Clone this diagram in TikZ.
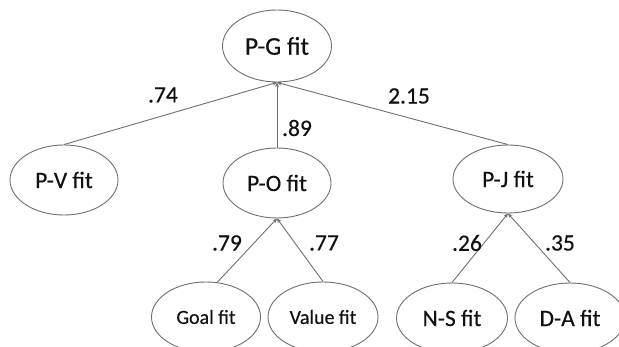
\documentclass[tikz,border=0pt]{standalone}
\usepackage{fontspec}
\setmainfont{Carlito}[FakeBold=0.35]
\usetikzlibrary{shapes.geometric,arrows.meta}
\definecolor{edgegray}{HTML}{707070}
\definecolor{inkgray}{HTML}{111111}
\begin{document}
\begin{tikzpicture}[x=1pt,y=-1pt,
  fitnode/.style={ellipse,draw=edgegray,line width=0.9pt,inner sep=0pt,
    text=inkgray,font=\fontsize{23.5}{27}\selectfont},
  link/.style={draw=edgegray,line width=0.9pt,-{Stealth[length=4.5pt,width=4pt]}},
  weight/.style={text=inkgray,font=\fontsize{23.5}{27}\selectfont,inner sep=0pt}]
\useasboundingbox[fill=white] (0,0) rectangle (619,347);
% top level
\node[fitnode,minimum width=109pt,minimum height=72pt,font=\fontsize{25.5}{30}\selectfont] (pg) at (277,46) {P-G fit};
% second level
\node[fitnode,minimum width=108pt,minimum height=70pt] (pv) at (64,180) {P-V fit};
\node[fitnode,minimum width=108pt,minimum height=70pt] (po) at (277,183) {P-O fit};
\node[fitnode,minimum width=110pt,minimum height=68pt] (pj) at (508,179) {P-J fit};
% third level
\node[fitnode,minimum width=109pt,minimum height=70pt,font=\fontsize{20}{24}\selectfont] (goal) at (206,317) {Goal fit};
\node[fitnode,minimum width=110pt,minimum height=70pt,font=\fontsize{20}{24}\selectfont] (value) at (323,317) {Value fit};
\node[fitnode,minimum width=111pt,minimum height=70pt] (ns) at (452,318) {N-S fit};
\node[fitnode,minimum width=110pt,minimum height=70pt] (da) at (570,318) {D-A fit};
% connectors
\draw[link] (pv.north) -- (pg.south);
\draw[link] (po.north) -- (pg.south);
\draw[link] (pj.north) -- (pg.south);
\draw[link] (goal.72) -- (po.south);
\draw[link] (value.north) -- (po.south);
\draw[link] (ns.north) -- (pj.south);
\draw[link] (da.north) -- (pj.south);
% path coefficients
\node[weight] (w74) at (163,95) {.74};
\node[weight] (w89) at (297,128) {.89};
\node[weight] (w215) at (409,96) {2.15};
\node[weight] (w79) at (227,243) {.79};
\node[weight] (w77) at (324,243) {.77};
\node[weight] (w26) at (467,243) {.26};
\node[weight] (w35) at (560,243) {.35};
\end{tikzpicture}
\end{document}
